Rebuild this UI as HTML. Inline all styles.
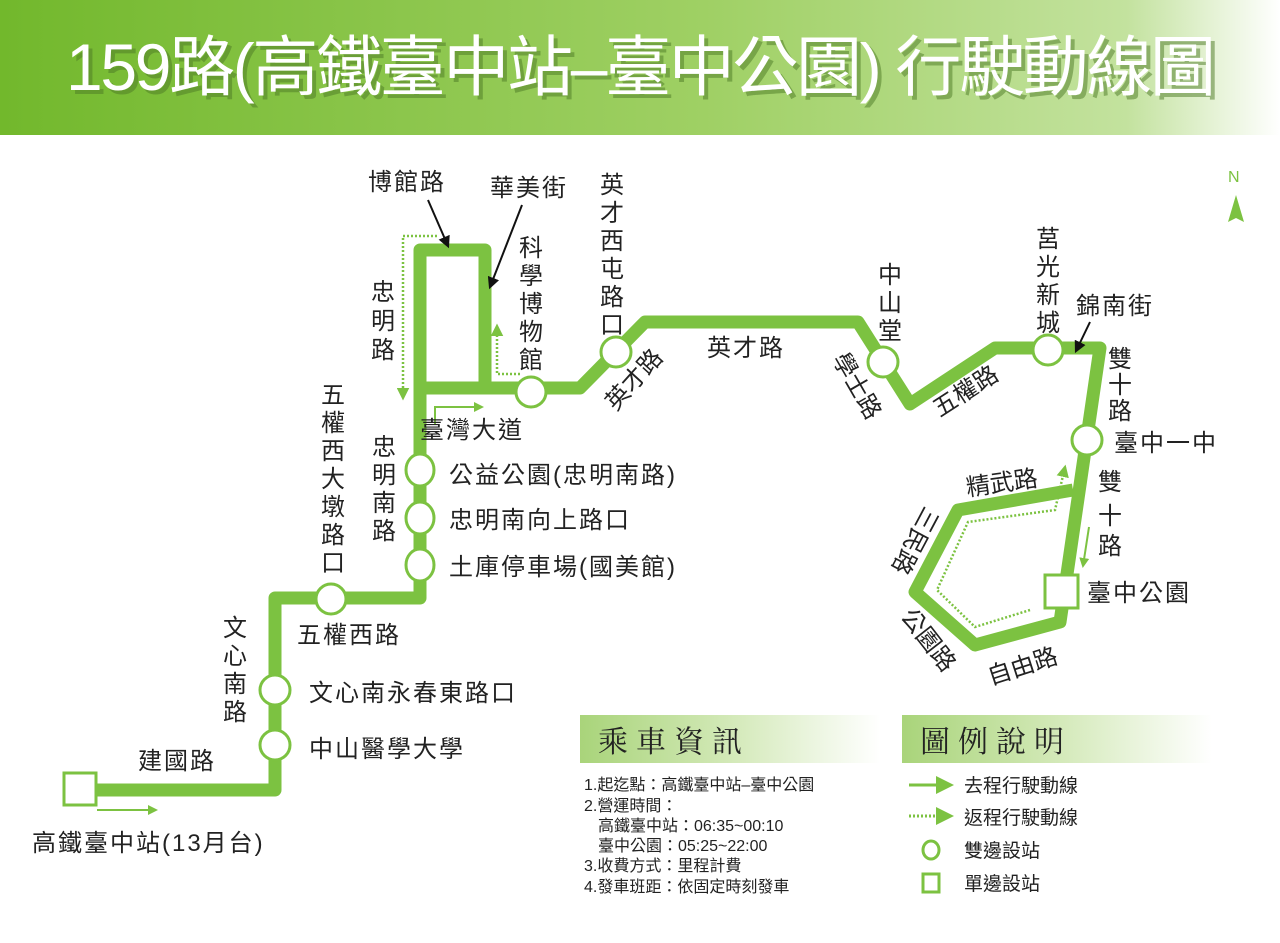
<!DOCTYPE html>
<html><head><meta charset="utf-8"><style>
body{margin:0;width:1280px;height:938px;overflow:hidden;background:#fff;font-family:"Liberation Sans","Noto Sans CJK TC",sans-serif;}
svg text{font-family:"Liberation Sans","Noto Sans CJK TC",sans-serif;fill:#222;}
</style></head><body>
<svg width="1280" height="938" viewBox="0 0 1280 938" xmlns="http://www.w3.org/2000/svg">
<defs>
<linearGradient id="hd" x1="0" x2="1" y1="0" y2="0">
<stop offset="0" stop-color="#72b82c"/><stop offset="0.55" stop-color="#9fd064"/><stop offset="0.88" stop-color="#c3e29e"/><stop offset="1" stop-color="#ffffff"/></linearGradient>
<linearGradient id="bx" x1="0" x2="1"><stop offset="0" stop-color="#a9d47a"/><stop offset="0.5" stop-color="#d3e9b8"/><stop offset="1" stop-color="#ffffff"/></linearGradient>
<marker id="ga" viewBox="0 0 10 10" refX="8" refY="5" markerWidth="5" markerHeight="5" orient="auto"><path d="M0,0L10,5L0,10z" fill="#7cc241"/></marker>
<marker id="ka" viewBox="0 0 10 10" refX="8" refY="5" markerWidth="6" markerHeight="6" orient="auto"><path d="M0,0L10,5L0,10z" fill="#111"/></marker>
</defs>
<rect x="0" y="0" width="1280" height="135" fill="url(#hd)"/>
<text x="70" y="94" font-size="66" style="fill:#4d7a26" opacity="0.5" textLength="1150">159路(高鐵臺中站–臺中公園) 行駛動線圖</text>
<text x="66" y="90" font-size="66" style="fill:#fff" textLength="1150">159路(高鐵臺中站–臺中公園) 行駛動線圖</text>

<!-- N -->
<text x="1228" y="182" font-size="16" style="fill:#7cc241">N</text>
<path d="M1236,195 L1244,222 L1236,218 L1228,222z" fill="#7cc241"/>

<g fill="none" stroke="#7cc241" stroke-width="13" stroke-linejoin="round">
<polyline points="80,790 275,790 275,598 420,598 420,250 485,250 485,388"/>
<polyline points="420,388 580,388 645,322 858,322 910,404 995,348 1100,348 1060,622 975,645 915,592 958,510 1073,490"/>
</g>
<g fill="none" stroke="#7cc241" stroke-width="2.5" stroke-dasharray="2,2">
<polyline points="437,236 403,236 403,398" marker-end="url(#ga)"/>
<polyline points="520,374 497,374 497,326" marker-end="url(#ga)"/>
<polyline points="1030,610 975,627 937,590 968,522 1055,510 1065,467" marker-end="url(#ga)"/>
</g>
<g fill="none" stroke="#7cc241" stroke-width="2">
<polyline points="435,425 435,407 482,407" marker-end="url(#ga)"/>
<line x1="97" y1="810" x2="156" y2="810" marker-end="url(#ga)"/>
<line x1="1089" y1="527" x2="1083" y2="566" marker-end="url(#ga)"/>
</g>
<g stroke="#111" stroke-width="2" marker-end="url(#ka)">
<line x1="428" y1="200" x2="448" y2="246"/>
<line x1="522" y1="205" x2="490" y2="287"/>
<line x1="1090" y1="322" x2="1076" y2="351"/>
</g>
<g fill="#fff" stroke="#7cc241" stroke-width="3">
<ellipse cx="616" cy="352" rx="15" ry="15"/><ellipse cx="531" cy="392" rx="15" ry="15"/>
<ellipse cx="420" cy="470" rx="14" ry="16"/><ellipse cx="420" cy="518" rx="14" ry="16"/><ellipse cx="420" cy="565" rx="14" ry="16"/>
<ellipse cx="331" cy="599" rx="15" ry="15"/><ellipse cx="275" cy="690" rx="15" ry="15"/><ellipse cx="275" cy="745" rx="15" ry="15"/>
<ellipse cx="883" cy="362" rx="15" ry="15"/><ellipse cx="1048" cy="350" rx="15" ry="15"/><ellipse cx="1087" cy="440" rx="15" ry="15"/>
<rect x="64" y="773" width="32" height="32"/><rect x="1045" y="575" width="33" height="33"/>
</g>

<g font-size="24" letter-spacing="2">
<text x="368" y="190">博館路</text><text x="490" y="196">華美街</text>
<text x="420" y="438">臺灣大道</text>
<text x="449" y="483">公益公園(忠明南路)</text>
<text x="449" y="528">忠明南向上路口</text>
<text x="449" y="575">土庫停車場(國美館)</text>
<text x="297" y="643">五權西路</text>
<text x="309" y="701">文心南永春東路口</text>
<text x="309" y="757">中山醫學大學</text>
<text x="138" y="769">建國路</text>
<text x="32" y="851">高鐵臺中站(13月台)</text>
<text x="707" y="356">英才路</text>
<text x="1076" y="314">錦南街</text>
<text x="1114" y="451">臺中一中</text>
<text x="1087" y="601">臺中公園</text>
</g>
<g font-size="24" text-anchor="middle">
<text x="383" y="300">忠</text><text x="383" y="329">明</text><text x="383" y="358">路</text>
<text x="531" y="256">科</text><text x="531" y="284">學</text><text x="531" y="312">博</text><text x="531" y="340">物</text><text x="531" y="368">館</text>
<text x="612" y="193">英</text><text x="612" y="221">才</text><text x="612" y="249">西</text><text x="612" y="277">屯</text><text x="612" y="305">路</text><text x="612" y="333">口</text>
<text x="333" y="403">五</text><text x="333" y="431">權</text><text x="333" y="459">西</text><text x="333" y="487">大</text><text x="333" y="515">墩</text><text x="333" y="543">路</text><text x="333" y="571">口</text>
<text x="384" y="455">忠</text><text x="384" y="483">明</text><text x="384" y="511">南</text><text x="384" y="539">路</text>
<text x="235" y="636">文</text><text x="235" y="664">心</text><text x="235" y="692">南</text><text x="235" y="720">路</text>
<text x="890" y="283">中</text><text x="890" y="311">山</text><text x="890" y="339">堂</text>
<text x="1048" y="247">莒</text><text x="1048" y="275">光</text><text x="1048" y="303">新</text><text x="1048" y="331">城</text>
<text x="1120" y="367">雙</text><text x="1120" y="393">十</text><text x="1120" y="419">路</text>
<text x="1110" y="490">雙</text><text x="1110" y="524">十</text><text x="1110" y="554">路</text>
<text x="850" y="390" transform="rotate(60 850 390)">學士路</text>
<text x="640" y="385" transform="rotate(-48 640 385)">英才路</text>
<text x="970" y="398" transform="rotate(-33 970 398)">五權路</text>
<text x="1003" y="491" transform="rotate(-8 1003 491)">精武路</text>
<text x="908" y="537" transform="rotate(118 908 537)">三民路</text>
<text x="922" y="645" transform="rotate(52 922 645)">公園路</text>
<text x="1025" y="674" transform="rotate(-18 1025 674)">自由路</text>
</g>

<rect x="580" y="715" width="300" height="48" fill="url(#bx)"/>
<text x="598" y="752" font-size="30" style="font-family:'Noto Serif CJK SC',serif;fill:#222" letter-spacing="8">乘車資訊</text>
<rect x="902" y="715" width="310" height="48" fill="url(#bx)"/>
<text x="920" y="752" font-size="30" style="font-family:'Noto Serif CJK SC',serif;fill:#222" letter-spacing="8">圖例說明</text>
<g font-size="16">
<text x="584" y="790">1.起迄點：高鐵臺中站–臺中公園</text>
<text x="584" y="811">2.營運時間：</text>
<text x="598" y="831">高鐵臺中站：06:35~00:10</text>
<text x="598" y="851">臺中公園：05:25~22:00</text>
<text x="584" y="871">3.收費方式：里程計費</text>
<text x="584" y="892">4.發車班距：依固定時刻發車</text>
</g>
<g font-size="19">
<text x="964" y="792">去程行駛動線</text>
<text x="964" y="824">返程行駛動線</text>
<text x="964" y="857">雙邊設站</text>
<text x="964" y="890">單邊設站</text>
</g>
<line x1="909" y1="785" x2="938" y2="785" stroke="#7cc241" stroke-width="3"/>
<path d="M936,776 L954,785 L936,794z" fill="#7cc241"/>
<line x1="909" y1="816" x2="936" y2="816" stroke="#7cc241" stroke-width="3" stroke-dasharray="2,2"/>
<path d="M936,807 L954,816 L936,825z" fill="#7cc241"/>
<ellipse cx="931" cy="850" rx="8" ry="9" fill="none" stroke="#7cc241" stroke-width="3"/>
<rect x="923" y="874" width="16" height="18" fill="none" stroke="#7cc241" stroke-width="3"/>
</svg>
</body></html>
